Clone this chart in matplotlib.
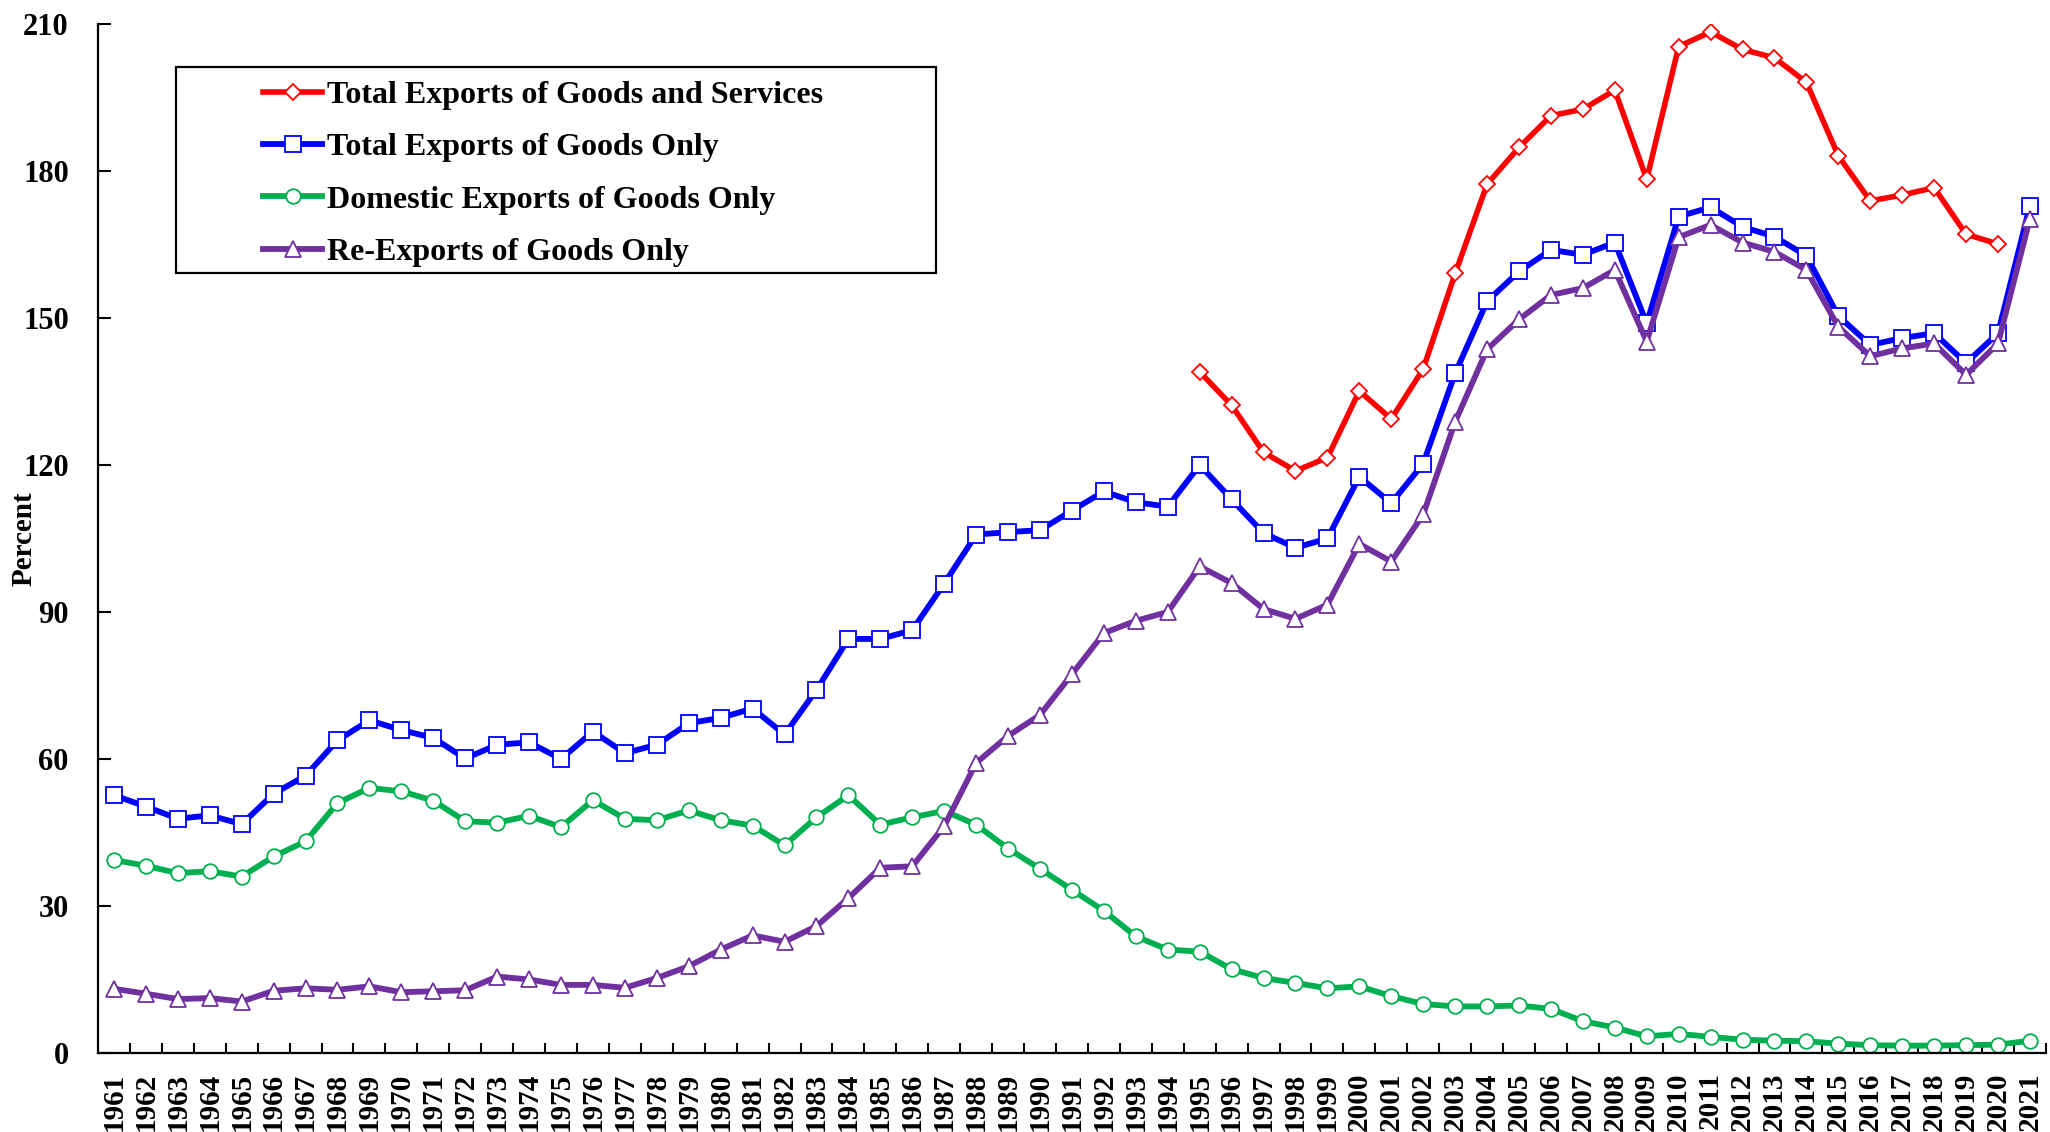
import numpy as np
import matplotlib
matplotlib.use("Agg")
import matplotlib.pyplot as plt
from matplotlib.patches import Rectangle
from matplotlib.ticker import FixedLocator

# years on the category axis
years = list(range(1961, 2022))

# Total exports of goods and services (only from 1995 to 2020)
goods_services = [None] * 34 + [
    139.0, 132.2, 122.6, 118.8, 121.5, 135.1, 129.4, 139.6, 159.1, 177.3,
    184.8, 191.3, 192.6, 196.5, 178.3, 205.4, 208.4, 204.8, 203.1, 198.1,
    183.1, 173.9, 175.1, 176.6, 167.1, 165.1, None]

# Total exports of goods only
goods_total = [
    52.6, 50.3, 47.8, 48.5, 46.7, 52.9, 56.6, 63.8, 67.9, 65.9,
    64.3, 60.1, 62.9, 63.4, 60.0, 65.6, 61.2, 62.9, 67.3, 68.4,
    70.3, 65.0, 74.1, 84.5, 84.5, 86.3, 95.8, 105.8, 106.3, 106.7,
    110.7, 114.6, 112.4, 111.5, 120.0, 113.0, 106.1, 103.1, 105.0, 117.6,
    112.2, 120.3, 138.7, 153.4, 159.5, 163.9, 162.9, 165.4, 148.9, 170.7,
    172.6, 168.6, 166.6, 162.7, 150.4, 144.5, 145.9, 146.9, 140.8, 146.9,
    172.9]

# Domestic exports of goods only
goods_domestic = [
    39.4, 38.2, 36.7, 37.1, 36.0, 40.1, 43.2, 51.0, 54.1, 53.4,
    51.5, 47.3, 47.0, 48.4, 46.1, 51.6, 47.8, 47.5, 49.5, 47.5,
    46.4, 42.4, 48.1, 52.6, 46.6, 48.1, 49.4, 46.6, 41.7, 37.6,
    33.3, 29.0, 23.8, 21.1, 20.7, 17.1, 15.3, 14.3, 13.2, 13.6,
    11.6, 10.0, 9.5, 9.5, 9.7, 9.0, 6.5, 5.2, 3.4, 3.9,
    3.3, 2.7, 2.5, 2.4, 1.9, 1.6, 1.5, 1.5, 1.6, 1.7,
    2.5]

# Re-exports of goods only
goods_reexports = [
    13.1, 12.1, 11.0, 11.2, 10.5, 12.7, 13.2, 12.9, 13.6, 12.4,
    12.6, 12.8, 15.6, 15.0, 13.9, 13.9, 13.3, 15.3, 17.7, 21.1,
    24.0, 22.7, 25.9, 31.6, 37.8, 38.1, 46.3, 59.2, 64.7, 69.0,
    77.3, 85.7, 88.2, 90.0, 99.3, 95.9, 90.6, 88.6, 91.5, 103.9,
    100.3, 109.9, 128.8, 143.6, 149.7, 154.7, 156.1, 159.8, 145.2, 166.5,
    169.0, 165.4, 163.5, 159.8, 148.2, 142.2, 143.8, 144.8, 138.4, 144.8,
    170.3]

labels = ["Total Exports of Goods and Services",
          "Total Exports of Goods Only",
          "Domestic Exports of Goods Only",
          "Re-Exports of Goods Only"]

plt.rcParams["font.family"] = ["Liberation Serif", "DejaVu Serif"]
plt.rcParams["font.weight"] = "bold"

fig = plt.figure(figsize=(20.5, 11.32), dpi=100)
ax = fig.add_axes([0.0478, 0.0698, 0.9502, 0.909])

x = np.arange(len(years))

def to_arr(vals):
    return np.array([np.nan if v is None else v for v in vals], dtype=float)

# plot each series
ax.plot(x, to_arr(goods_services), color="#FF0000", lw=4.0, marker="D", ms=8,
        mfc="white", mec="#FF0000", mew=1.3, label=labels[0])
ax.plot(x, to_arr(goods_total), color="#0000FF", lw=4.2, marker="s", ms=11.5,
        mfc="white", mec="#0000FF", mew=1.3, label=labels[1])
ax.plot(x, to_arr(goods_domestic), color="#00B050", lw=4.2, marker="o", ms=10.5,
        mfc="white", mec="#00B050", mew=1.3, label=labels[2])
ax.plot(x, to_arr(goods_reexports), color="#7030A0", lw=4.2, marker="^", ms=11.5,
        mfc="white", mec="#7030A0", mew=1.3, label=labels[3])

# axes styling
ax.set_xlim(-0.5, len(years) - 0.5)
ax.set_ylim(0, 210)
ax.set_yticks(np.arange(0, 211, 30))
ax.set_xticks(x)
ax.set_xticklabels([str(y) for y in years], rotation=90, fontsize=21, fontweight="bold")
ax.xaxis.set_minor_locator(FixedLocator(np.arange(0.5, len(years) - 0.4, 1)))
ax.tick_params(axis="x", which="major", length=0, pad=14)
ax.tick_params(axis="x", which="minor", direction="in", length=7, width=1.5)
ax.tick_params(axis="y", direction="in", length=9, width=1.5, pad=21, labelsize=22)
for lab in ax.get_yticklabels():
    lab.set_fontweight("bold")

for side in ["top", "right"]:
    ax.spines[side].set_visible(False)
for side in ["left", "bottom"]:
    ax.spines[side].set_linewidth(1.6)

ax.set_ylabel("Percent", fontsize=21, fontweight="bold")
ax.yaxis.set_label_coords(-0.031, 0.5)

# legend box drawn as a separate frame
ax.add_patch(Rectangle((0.040, 0.758), 0.390, 0.200, transform=ax.transAxes,
                       fill=True, facecolor="white", edgecolor="black", lw=1.6, zorder=5))
leg = ax.legend(loc="upper left", bbox_to_anchor=(0.0847, 0.945), frameon=False,
                fontsize=23, handlelength=1.85, handletextpad=0.16, labelspacing=0.72,
                borderpad=0, borderaxespad=0)
leg.set_zorder(6)

fig.savefig("out.png", dpi=100)
